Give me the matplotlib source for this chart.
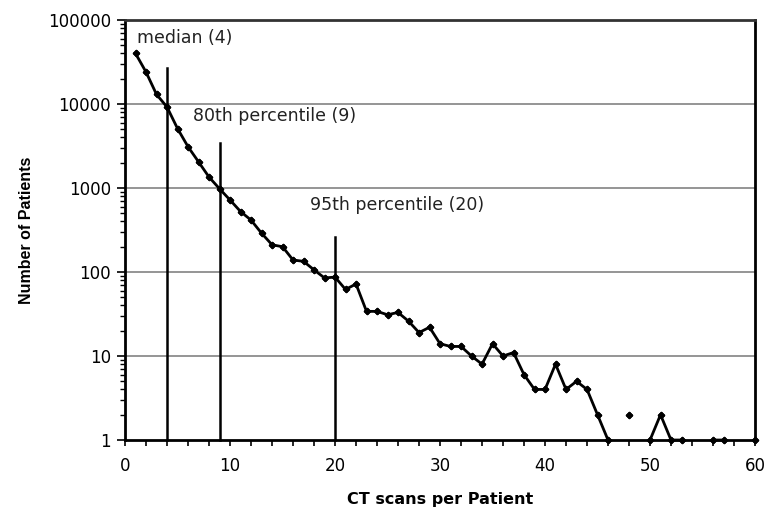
import numpy as np
import matplotlib
matplotlib.use("Agg")
import matplotlib.pyplot as plt
from matplotlib.ticker import FixedLocator, MultipleLocator, NullFormatter

# CT scans per patient (1..60) and number of patients; nan = no patients
scans = list(range(1, 61))
patients = [
    40000, 24000, 13000, 9200, 5100, 3100, 2050, 1350, 980, 720,
    525, 415, 290, 211, 200, 139, 134, 106, 85, 87,
    62, 72, 34, 34, 31, 33, 26, 19, 22, 14,
    13, 13, 10, 8, 14, 10, 11, 6, 4, 4,
    8, 4, 5, 4, 2, 1, np.nan, 2, np.nan, 1,
    2, 1, 1, np.nan, np.nan, 1, 1, np.nan, np.nan, 1,
]

# percentile markers: position, line height, label, label anchor
pct_x = [4, 9, 20]
pct_top = [27000, 3400, 260]
pct_labels = ["median (4)", "80th percentile (9)", "95th percentile (20)"]
label_x = [1.15, 6.45, 17.6]
label_y = [61000, 7200, 630]

fig = plt.figure(figsize=(7.68, 5.17), dpi=100)
ax = fig.add_axes([0.1628, 0.1489, 0.8203, 0.8124])

ax.set_yscale("log")
ax.set_xlim(0, 60)
ax.set_ylim(1, 100000)

# decade gridlines
for v in [10, 100, 1000, 10000]:
    ax.axhline(v, color="#8c8c8c", lw=1.3, zorder=1)

# percentile lines
for px, top in zip(pct_x, pct_top):
    ax.plot([px, px], [1, top], color="black", lw=1.8, zorder=2, clip_on=False)

ax.plot(scans, patients, color="black", lw=2.0, marker="D", markersize=3.2,
        zorder=3, clip_on=False)

# isolated points (neighbours missing) still need a marker
ax.plot(scans, patients, ls="none", marker="D", markersize=3.2, color="black",
        zorder=3, clip_on=False)

for tx, ty, t in zip(label_x, label_y, pct_labels):
    ax.text(tx, ty, t, fontsize=12.5, color="#222222", va="center", ha="left")

ax.yaxis.set_major_locator(FixedLocator([1, 10, 100, 1000, 10000, 100000]))
ax.set_yticklabels(["1", "10", "100", "1000", "10000", "100000"])
ax.yaxis.set_minor_locator(FixedLocator(
    [m * 10 ** e for e in range(0, 5) for m in range(2, 10)]))
ax.yaxis.set_minor_formatter(NullFormatter())
ax.xaxis.set_major_locator(MultipleLocator(10))
ax.xaxis.set_minor_locator(MultipleLocator(2))

ax.tick_params(axis="both", which="major", direction="out",
               width=1.2, labelsize=12, colors="black")
ax.tick_params(axis="y", which="major", length=6, pad=4)
ax.tick_params(axis="y", which="minor", direction="out", length=3.5, width=1)
ax.tick_params(axis="x", which="both", direction="out", length=4.5, width=1.2)
ax.tick_params(axis="x", which="major", pad=8)

for s in ax.spines.values():
    s.set_linewidth(2)
    s.set_color("black")
ax.spines["top"].set_color("#333333")

ax.set_xlabel("CT scans per Patient", fontsize=11.5, fontweight="bold",
              labelpad=12)
ax.set_ylabel("Number of Patients", fontsize=11.5, fontweight="bold",
              family="Liberation Sans", labelpad=10)

fig.savefig("out.png", dpi=100)
